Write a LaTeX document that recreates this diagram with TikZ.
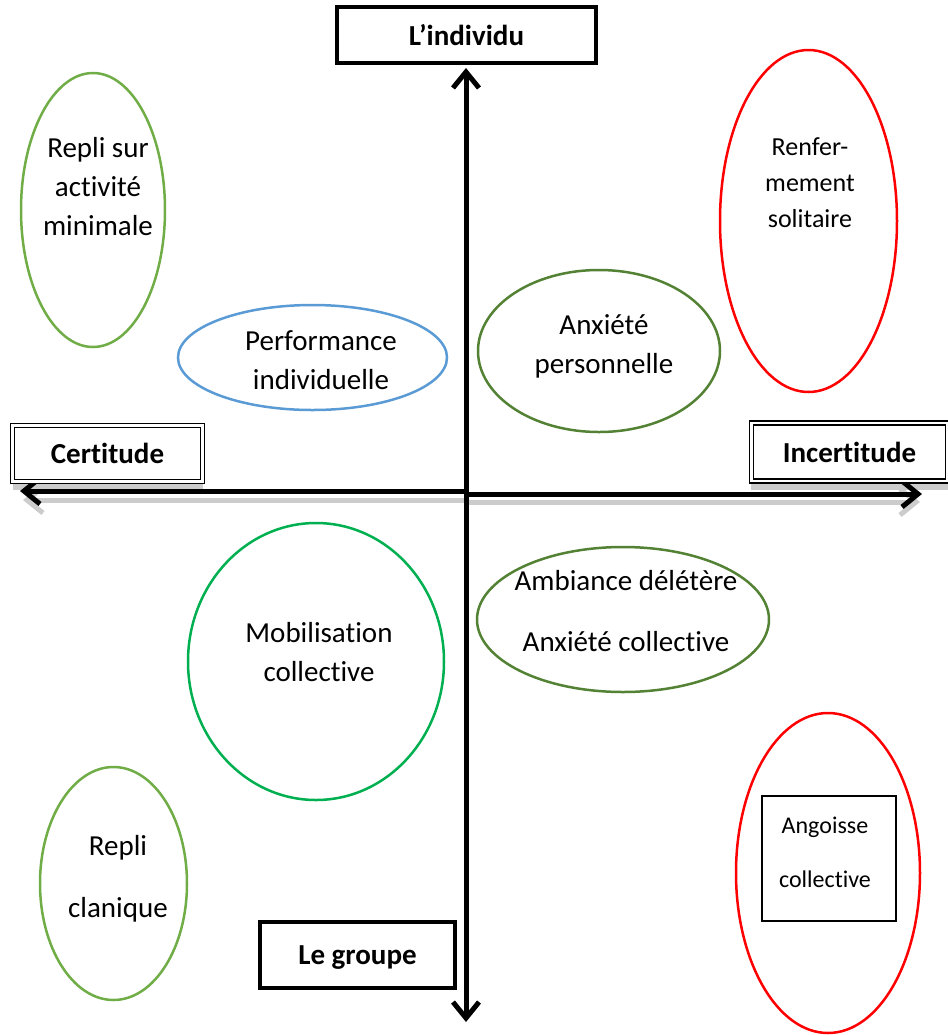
\documentclass[tikz,border=0pt]{standalone}
\usepackage{fontspec}
\setmainfont{Carlito}[Ligatures={NoCommon,NoContextual,NoRare},Contextuals=NoAlternate]
\usepackage{xcolor}
\usepackage{tikz}
\usetikzlibrary{calc}
\usetikzlibrary{arrows.meta}
\usetikzlibrary{shapes.geometric}
\usetikzlibrary{positioning}

\definecolor{lightgreen}{HTML}{70AD47}
\definecolor{darkgreen}{HTML}{548235}
\definecolor{brightgreen}{HTML}{00B050}
\definecolor{skyblue}{HTML}{5B9BD5}
\definecolor{shadowgray}{gray}{0.8}

\tikzset{
  axis/.style={line width=2.5pt, {Straight Barb[length=8pt,width=13pt]}-{Straight Barb[length=8pt,width=13pt]}},
  halfaxis/.style={line width=2.5pt, -{Straight Barb[length=8pt,width=13pt]}},
  oval/.style={ellipse, draw, line width=1.25pt, inner sep=0pt},
  txt/.style={align=center, font=\fontsize{14.5}{19.5}\selectfont},
  widetxt/.style={align=center, font=\fontsize{14.5}{30.5}\selectfont},
  pole/.style={draw, fill=white, line width=1.75pt, text depth=0pt,
    font=\fontsize{14.5}{17}\selectfont\bfseries},
  dpole/.style={draw, fill=white, double, double distance=1.2pt, line width=0.7pt,
    text depth=0pt, font=\fontsize{14.5}{17}\selectfont\bfseries}
}

\begin{document}
\begin{tikzpicture}[x=0.5pt,y=-0.5pt]
  \useasboundingbox (0,0) rectangle (948,1035);

  % axes
  \coordinate (origin) at (466,492);
  \coordinate (top) at (466,68);
  \coordinate (bottom) at (466,1022);
  \coordinate (west) at (20,491);
  \coordinate (east) at (922,494);
  \coordinate (midl) at (466,491);
  \coordinate (midr) at (466,494);

  % shadows of the horizontal axis and its labels
  \fill[shadowgray] (13,482) rectangle (203,490);
  \fill[shadowgray] (751,482) rectangle (948,490);
  \draw[halfaxis, shadowgray] ($(midl)+(3,9)$) -- ($(west)+(3,9)$);
  \draw[halfaxis, shadowgray] ($(midr)+(0,8)$) -- ($(east)+(-2,8)$);

  \draw[halfaxis] (midl) -- (west);
  \draw[halfaxis] (midr) -- (east);
  \draw[axis] (bottom) -- (top);

  % poles
  \node[pole, minimum width=129.5pt, minimum height=28pt] (individu) at (466.5,35) {L’individu};
  \node[pole, minimum width=97.5pt, minimum height=33pt] (groupe) at (357.5,955) {Le groupe};
  \node[dpole, minimum width=95pt, minimum height=28pt] (certitude) at (107.5,453.5) {Certitude};
  \node[dpole, minimum width=98pt, minimum height=29pt] (incertitude) at (849.5,452) {Incertitude};

  % ovals
  \node[oval, lightgreen, minimum width=72pt, minimum height=137pt] (repli) at (93,210) {};
  \node[oval, skyblue, minimum width=134.5pt, minimum height=52.5pt] (perf) at (312.5,357.5) {};
  \node[oval, darkgreen, minimum width=121pt, minimum height=81pt] (anxperso) at (599,351) {};
  \node[oval, red, minimum width=88.5pt, minimum height=171pt] (renferm) at (808.5,221) {};
  \node[oval, brightgreen, minimum width=128pt, minimum height=138.5pt] (mobil) at (316,661.5) {};
  \node[oval, darkgreen, minimum width=146pt, minimum height=72.5pt] (ambiance) at (623,619.5) {};
  \node[oval, lightgreen, minimum width=73.5pt, minimum height=116.5pt] (clan) at (113.5,883.5) {};
  \node[oval, red, minimum width=92pt, minimum height=160pt] (angoisse) at (828,873) {};
  \node[draw, line width=0.75pt, minimum width=67pt, minimum height=62.5pt] (angbox) at (829,858.5) {};

  % texts
  \node[txt] (repliT) at (98,187) {Repli sur\\activité\\minimale};
  \node[txt] (perfT) at (321,360) {Performance\\individuelle};
  \node[txt] (anxpersoT) at (604,346) {Anxiété\\personnelle};
  \node[align=center, font=\fontsize{13}{18}\selectfont] (renfermT) at (810,183) {Renfer-\\mement\\solitaire};
  \node[txt] (mobilT) at (319,652) {Mobilisation\\collective};
  \node[widetxt] (ambianceT) at (626,611) {Ambiance délétère\\Anxiété collective};
  \node[align=center, font=\fontsize{14.5}{31}\selectfont] (clanT) at (118,879) {Repli\\clanique};
  \node[align=center, font=\fontsize{12}{27}\selectfont] (angoisseT) at (825,852) {Angoisse\\collective};
\end{tikzpicture}
\end{document}
